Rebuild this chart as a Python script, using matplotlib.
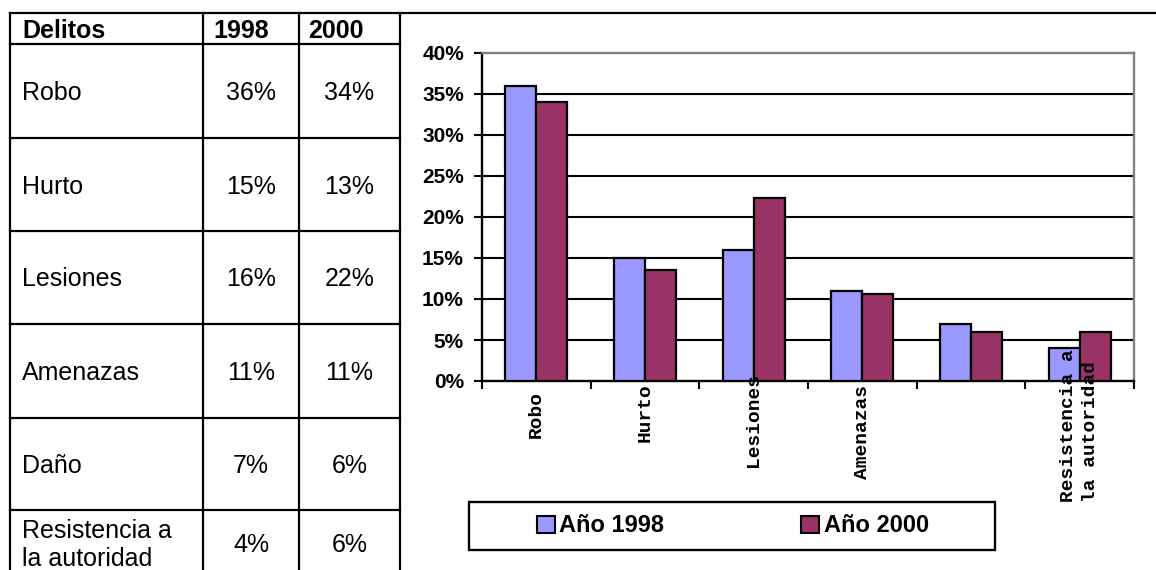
import matplotlib
matplotlib.use("Agg")
import matplotlib.pyplot as plt
import matplotlib.transforms as mtransforms
from matplotlib.lines import Line2D
from matplotlib.patches import Rectangle, Patch
import numpy as np

# ---------------- data ----------------
table_header = ["Delitos", "1998", "2000"]
categories = ["Robo", "Hurto", "Lesiones", "Amenazas", "Daño", "Resistencia a\nla autoridad"]
table_1998 = ["36%", "15%", "16%", "11%", "7%", "4%"]
table_2000 = ["34%", "13%", "22%", "11%", "6%", "6%"]

axis_labels = ["Robo", "Hurto", "Lesiones", "Amenazas", "", "Resistencia a\nla autoridad"]
values_1998 = [36, 15, 16, 11, 7, 4]
values_2000 = [34, 13.5, 22.3, 10.6, 6, 6]
series_names = ["Año 1998", "Año 2000"]
y_ticks = [0, 5, 10, 15, 20, 25, 30, 35, 40]

# ---------------- layout ----------------
W, H = 1156, 570
fig = plt.figure(figsize=(W / 100, H / 100), dpi=100)


def fx(px):
    return px / W


def fy(py):
    return 1 - py / H


SANS = ["Liberation Sans", "DejaVu Sans"]
MONO = ["Liberation Mono", "DejaVu Sans Mono"]
C1998 = "#9999FF"
C2000 = "#993366"

# ---- table ----
col_x = [10, 203, 299, 400]
row_y = [13, 44, 138, 231, 324, 418, 510]
lw_tab = 1.6
# top line spans full width
fig.add_artist(Line2D([fx(10), fx(W)], [fy(row_y[0]), fy(row_y[0])],
                      transform=fig.transFigure, color="black", lw=lw_tab))
for ry in row_y[1:]:
    fig.add_artist(Line2D([fx(col_x[0]), fx(col_x[-1])], [fy(ry), fy(ry)],
                          transform=fig.transFigure, color="black", lw=lw_tab))
for cx in col_x:
    fig.add_artist(Line2D([fx(cx), fx(cx)], [fy(row_y[0]), fy(H + 5)],
                          transform=fig.transFigure, color="black", lw=lw_tab))

fs_tab = 18
cap = 9  # half cap height in px
hdr_base = (row_y[0] + row_y[1]) / 2 + cap
fig.text(fx(col_x[0] + 12), fy(hdr_base), table_header[0], family=SANS,
         fontsize=fs_tab, fontweight="bold", ha="left", va="baseline")
fig.text(fx(col_x[1] + 10), fy(hdr_base), table_header[1], family=SANS,
         fontsize=fs_tab, fontweight="bold", ha="left", va="baseline")
fig.text(fx(col_x[2] + 9), fy(hdr_base), table_header[2], family=SANS,
         fontsize=fs_tab, fontweight="bold", ha="left", va="baseline")

row_bounds = row_y[1:] + [576]
for i, cat in enumerate(categories):
    center = (row_bounds[i] + row_bounds[i + 1]) / 2
    lines = cat.split("\n")
    n = len(lines)
    step = 28
    first_base = center + cap - (n - 1) * step / 2
    for j, ln in enumerate(lines):
        fig.text(fx(col_x[0] + 12), fy(first_base + j * step), ln, family=SANS,
                 fontsize=fs_tab, ha="left", va="baseline")
    fig.text(fx((col_x[1] + col_x[2]) / 2), fy(center + cap), table_1998[i],
             family=SANS, fontsize=fs_tab, ha="center", va="baseline")
    fig.text(fx((col_x[2] + col_x[3]) / 2), fy(center + cap), table_2000[i],
             family=SANS, fontsize=fs_tab, ha="center", va="baseline")

# ---- chart ----
ax = fig.add_axes([fx(482), fy(381), fx(1134) - fx(482), fy(53) - fy(381)])
x = np.arange(len(axis_labels))
bw = 0.285
ax.bar(x - bw / 2, values_1998, bw, color=C1998, edgecolor="black", lw=1.6, zorder=3)
ax.bar(x + bw / 2, values_2000, bw, color=C2000, edgecolor="black", lw=1.6, zorder=3)
ax.set_xlim(-0.5, len(axis_labels) - 0.5)
ax.set_ylim(y_ticks[0], y_ticks[-1])
for v in y_ticks[1:-1]:
    ax.axhline(v, color="black", lw=1.5, zorder=1)
ax.set_yticks(y_ticks)
ax.set_yticklabels([f"{v}%" for v in y_ticks], family=SANS, fontweight="bold")
ax.set_xticks(np.arange(-0.5, len(axis_labels), 1))
ax.set_xticklabels([])
ax.tick_params(axis="x", direction="out", length=6, width=1.5)
ax.tick_params(axis="y", direction="out", length=6, width=1.5, pad=7, labelsize=15)
for s in ["left", "bottom"]:
    ax.spines[s].set_color("black")
    ax.spines[s].set_linewidth(1.7)
for s in ["top", "right"]:
    ax.spines[s].set_color("#808080")
    ax.spines[s].set_linewidth(1.7)

# category labels (rotated)
label_center_px = [415, 413, 420, 432, 430, 426]
trans = mtransforms.blended_transform_factory(ax.transData, fig.transFigure)
for i, lab in enumerate(axis_labels):
    if not lab:
        continue
    fig.text(i, fy(label_center_px[i]), lab, transform=trans, rotation=90,
             ha="center", va="center", multialignment="left", family=MONO,
             fontweight="bold", fontsize=14, linespacing=1.4, zorder=5)

# ---- legend ----
fig.add_artist(Rectangle((fx(469), fy(550)), fx(995) - fx(469), fy(502) - fy(550),
                         transform=fig.transFigure, facecolor="white",
                         edgecolor="black", lw=1.7))
handles = [Patch(facecolor=C1998, edgecolor="black", lw=1.5),
           Patch(facecolor=C2000, edgecolor="black", lw=1.5)]
leg = fig.legend(handles, series_names, loc="center",
                 bbox_to_anchor=(fx(733), fy(526)), ncol=2, frameon=False,
                 prop={"family": SANS, "weight": "bold", "size": 17},
                 handlelength=0.75, handleheight=0.75, handletextpad=0.2,
                 columnspacing=5.8, borderpad=0)

fig.savefig("out.png", dpi=100)
